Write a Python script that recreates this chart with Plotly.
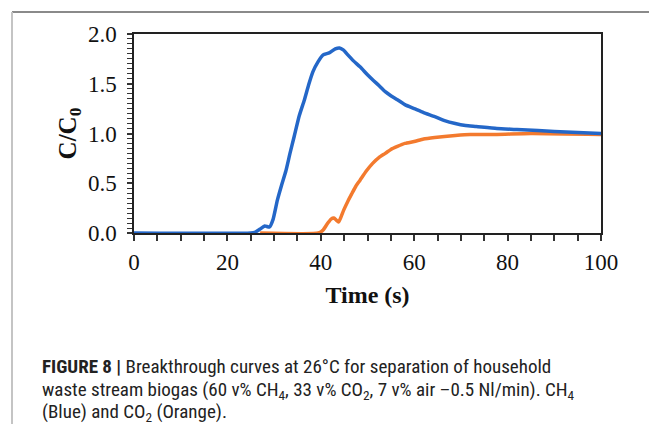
import plotly.graph_objects as go

# ---- data ----
ch4_time = [0, 25, 26, 27, 28, 29, 29.8, 30.7, 31.6, 32.5, 33.4, 34.3, 35.4, 36.5, 37.4, 38.3,
            39.4, 40.5, 41.8, 43.1, 44.0, 44.8, 45.8, 47, 48.4, 50, 51.1, 52.5, 53.8, 55, 56.4,
            58, 60, 62, 64.4, 66.5, 68.8, 71, 73.3, 77.7, 82, 86.5, 90, 95, 100]
ch4_conc = [0, 0, 0.01, 0.04, 0.07, 0.06, 0.14, 0.33, 0.48, 0.62, 0.80, 0.97, 1.18, 1.34, 1.49, 1.62,
            1.72, 1.79, 1.81, 1.85, 1.86, 1.84, 1.79, 1.73, 1.67, 1.59, 1.54, 1.48, 1.42, 1.38, 1.34,
            1.29, 1.25, 1.21, 1.17, 1.13, 1.10, 1.08, 1.07, 1.05, 1.04, 1.03, 1.02, 1.01, 1.00]

co2_time = [27, 39.5, 40.5, 41.5, 42.2, 42.8, 43.3, 43.8, 44.4, 44.9, 45.8, 46.7, 47.5, 48.4, 49.7,
            51.1, 52.5, 53.8, 55, 56.4, 58, 60, 62, 64.4, 66.5, 68.8, 72, 77.7, 85, 100]
co2_conc = [0, 0, 0.03, 0.10, 0.14, 0.15, 0.13, 0.11, 0.17, 0.23, 0.32, 0.40, 0.47, 0.53, 0.62,
            0.70, 0.76, 0.80, 0.84, 0.87, 0.90, 0.92, 0.945, 0.96, 0.97, 0.98, 0.99, 0.99, 1.00, 0.99]

x_ticks = [0, 20, 40, 60, 80, 100]
y_ticks = [0.0, 0.5, 1.0, 1.5, 2.0]

caption_lines = [
    "<b>FIGURE 8 |</b> Breakthrough curves at 26°C for separation of household",
    "waste stream biogas (60 v% CH<sub>4</sub>, 33 v% CO<sub>2</sub>, 7 v% air –0.5 Nl/min). CH<sub>4</sub>",
    "(Blue) and CO<sub>2</sub> (Orange).",
]

W, H = 649, 424
L, R, T, B = 134, 48, 34, 191
pw, ph = W - L - R, H - T - B


def px_x(p):
    return (p - L) / pw


def px_y(p):
    return (H - B - p) / ph


fig = go.Figure()
fig.add_trace(go.Scatter(x=co2_time, y=co2_conc, mode="lines",
                         line=dict(color="#f37a2e", width=3.5, shape="spline", smoothing=0.5),
                         showlegend=False, cliponaxis=True))
fig.add_trace(go.Scatter(x=ch4_time, y=ch4_conc, mode="lines",
                         line=dict(color="#2467c8", width=3.5, shape="spline", smoothing=0.5),
                         showlegend=False, cliponaxis=True))

serif = "Liberation Serif, Times New Roman, serif"
fig.update_xaxes(range=[0, 100], tickvals=x_ticks, ticks="outside", ticklen=6, tickwidth=1.5,
                 tickcolor="#333", showline=True, linecolor="#222", linewidth=1.5, mirror=True,
                 showgrid=False, zeroline=False, ticklabelstandoff=2,
                 minor=dict(dtick=5, ticks="outside", ticklen=6, tickwidth=1.5, tickcolor="#333"),
                 tickfont=dict(family=serif, size=23, color="#111"),
                 title=dict(text="<b>Time (s)</b>", font=dict(family=serif, size=24, color="#111"),
                            standoff=12))
fig.update_yaxes(range=[0, 2.0], tickvals=y_ticks, ticktext=[f"{v:.1f}" for v in y_ticks],
                 ticks="outside", ticklen=5, tickwidth=1.5, tickcolor="#333",
                 showline=True, linecolor="#222", linewidth=1.5, mirror=True,
                 showgrid=False, zeroline=False, ticklabelstandoff=6,
                 minor=dict(dtick=0.05, ticks="outside", ticklen=5, tickwidth=1.2, tickcolor="#333"),
                 tickfont=dict(family=serif, size=23, color="#111"),
                 title=dict(text="<b>C/C<sub>0</sub></b>", font=dict(family=serif, size=25, color="#111"),
                            standoff=4))

# outer gray frame (top and left edges)
fig.add_shape(type="line", xref="paper", yref="paper", x0=px_x(12), x1=px_x(W + 5),
              y0=px_y(12), y1=px_y(12), line=dict(color="#8a8a8a", width=2))
fig.add_shape(type="line", xref="paper", yref="paper", x0=px_x(12), x1=px_x(12),
              y0=px_y(12), y1=px_y(H + 5), line=dict(color="#c4c4c4", width=2))

cap_font = "Liberation Sans Narrow, Arial Narrow, Roboto Condensed, Liberation Sans, sans-serif"
for i, (line, py) in enumerate(zip(caption_lines, [366, 390, 412])):
    fig.add_annotation(x=px_x(40), y=px_y(py), xref="paper", yref="paper",
                       xanchor="left", yanchor="middle", showarrow=False, text=line,
                       font=dict(family=cap_font, size=19, color="#222"))

fig.update_layout(width=W, height=H, margin=dict(l=L, r=R, t=T, b=B),
                  paper_bgcolor="white", plot_bgcolor="white")

fig.write_html("out.html")
